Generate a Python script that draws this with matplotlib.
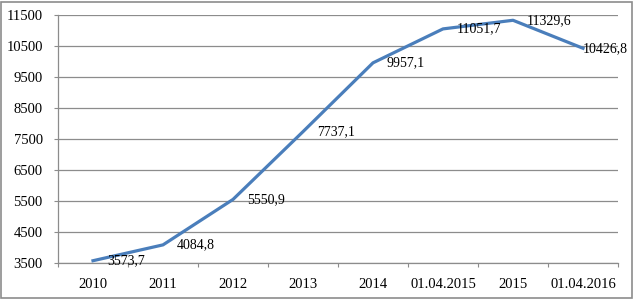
import matplotlib
matplotlib.use("Agg")
import matplotlib.pyplot as plt
from matplotlib.patches import Rectangle

categories = ["2010", "2011", "2012", "2013", "2014", "01.04.2015", "2015", "01.04.2016"]
values = [3573.7, 4084.8, 5550.9, 7737.1, 9957.1, 11051.7, 11329.6, 10426.8]
yticks = [3500, 4500, 5500, 6500, 7500, 8500, 9500, 10500, 11500]

BLUE = "#4A7EBB"
GRID = "#8C8C8C"

plt.rcParams["font.family"] = ["Liberation Serif", "DejaVu Serif"]

W, H = 634, 299
fig = plt.figure(figsize=(W / 100, H / 100), dpi=100)
ax = fig.add_axes([58 / W, (H - 263) / H, (618 - 58) / W, (263 - 15) / H])

x = list(range(len(categories)))
ax.plot(x, values, color=BLUE, lw=2.3, solid_joinstyle="round", zorder=3)

ax.set_xlim(-0.5, len(categories) - 0.5)
ax.set_ylim(yticks[0], yticks[-1])
ax.set_yticks(yticks)
ax.set_xticks(x)
ax.set_xticklabels(categories)
# ticks between categories, like excel
ax.set_xticks([i - 0.5 for i in range(len(categories) + 1)], minor=True)
ax.tick_params(axis="x", which="major", length=0, pad=11, labelsize=10.5)
ax.tick_params(axis="x", which="minor", length=3, width=0.8, color=GRID, direction="out")
ax.tick_params(axis="y", length=3, width=0.8, color=GRID, pad=8, labelsize=10.5)

ax.grid(axis="y", color=GRID, lw=0.9)
ax.set_axisbelow(True)
for s in ("top", "right"):
    ax.spines[s].set_visible(False)
for s in ("left", "bottom"):
    ax.spines[s].set_color(GRID)
    ax.spines[s].set_linewidth(0.9)

for i, v in enumerate(values):
    dx = 10 if i < len(values) - 1 else 0
    ax.annotate(f"{v:.1f}".replace(".", ","), (i, v), xytext=(dx, 0),
                textcoords="offset points", ha="left", va="center",
                fontsize=10, color="black", zorder=4)

fig.patches.append(Rectangle((1 / W, 1 / H), (W - 3) / W, (H - 3) / H,
                             transform=fig.transFigure, fill=False,
                             edgecolor="#8C8C8C", lw=1.2))

fig.savefig("out.png", dpi=100)
